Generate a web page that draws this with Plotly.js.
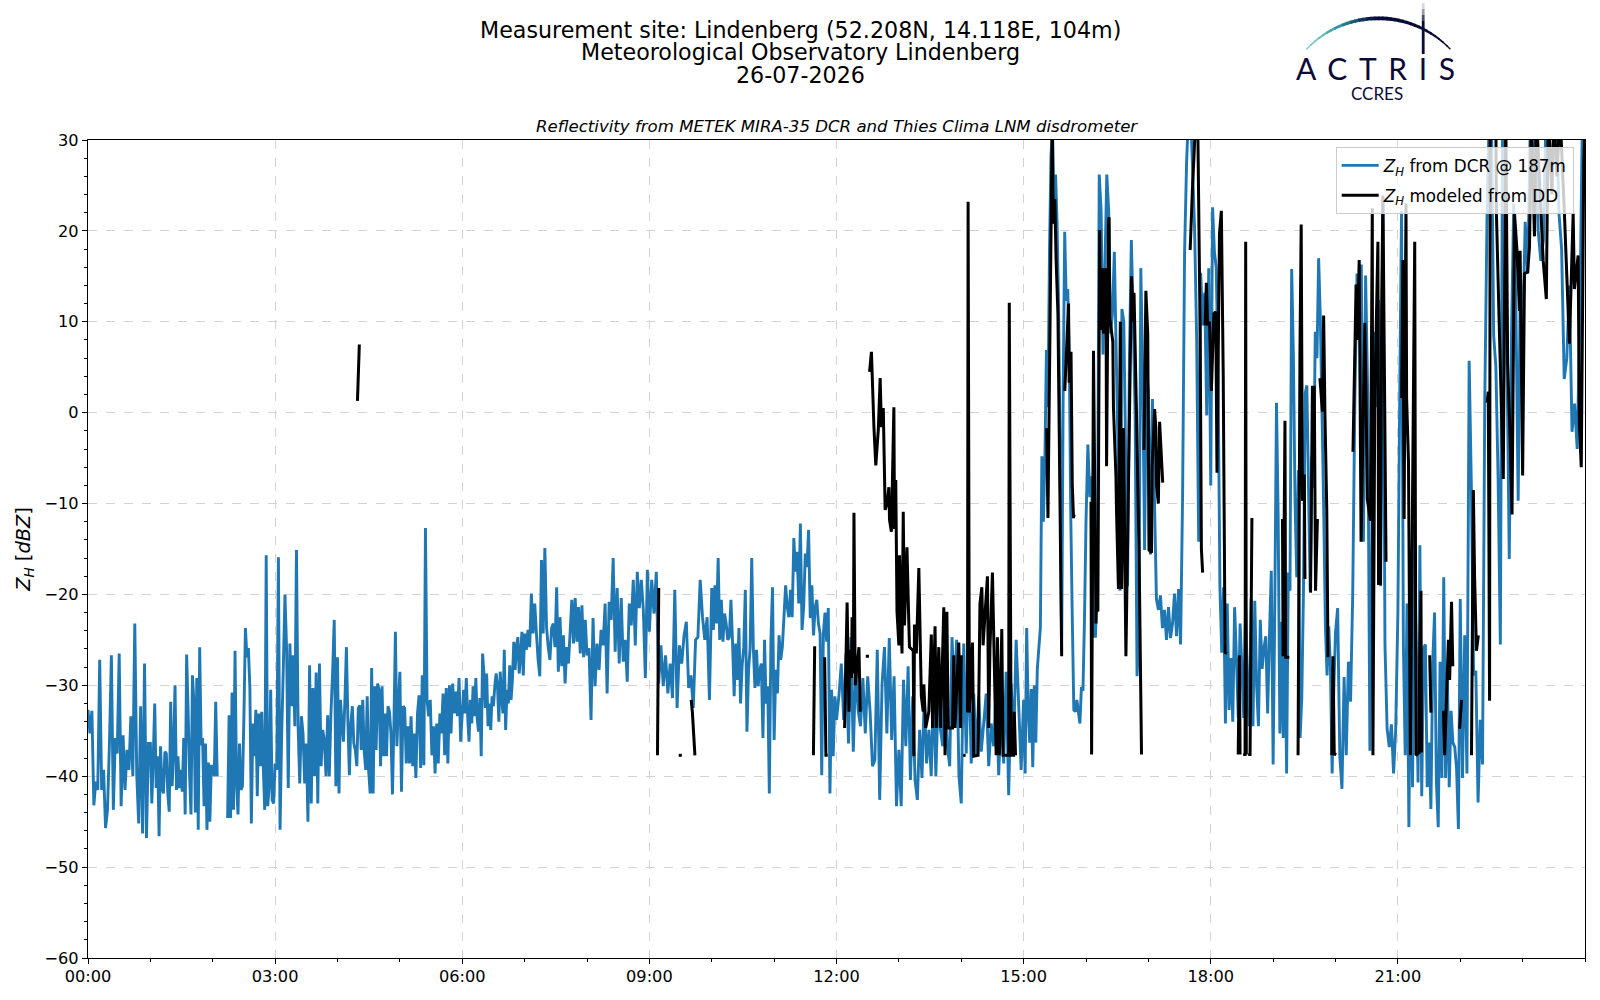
<!DOCTYPE html>
<html><head><meta charset="utf-8">
<script src="https://cdn.plot.ly/plotly-3.0.1.min.js"></script>
<style>html,body{margin:0;padding:0;background:#fff}#chart{width:1600px;height:1000px}</style>
</head><body><div id="chart"></div>
<script>
// Z_H from DCR, one list per hour of the day [dBZ]; values above 30 run off the top of the axis
const dcrH00=[-32.7,-35.3,-32.8,-43.2,-40.6,-41.5,-27.2,-41.5,-39.3,-45.7,-43.7,-36.4,-26.7,-43.7,-35.8,-37.5,-26.5,-43.3,-35.5,-41.5,-37.1,-39.3,-33.4,-40,-23.2,-39.8,-45.2,-32.3,-46.3,-27.6,-46.8,-36.4];
const dcrH01=[-36.4,-43,-37.8,-32,-41.3,-37.8,-46.6,-36.7,-41.3,-41.9,-37.3,-37.5,-41.9,-43.9,-31.8,-41.1,-37.1,-30,-41.5,-37.8,-41.3,-39.3,-41.7,-35.8,-44.2,-26.6,-32.7,-39.7,-44.2,-28.9,-31.8,-44,-29.2,-45.9,-25.8,-36.6,-35.8,-43.3,-36.4,-45.9,-38.5,-45,-38.9];
const dcrH02=[-38.9,-40,-31.8,-40,null,null,null,null,null,null,-44.6,-33.3,-44.6,-30.8,-43.7,-26.2,-40.6,-44.2,-36.4,-41.5,-41.1,-33.3,-23.7,-26.9,-25.9,-30.3,-45.2,-34.2,-37.8,-32.7,-42.2,-33.1,-38.9,-32.9,-38.9,-43.7,-15.7,-43.3,-41.1,-30.5,-42.6,-43];
const dcrH03=[-38.6,-39.3,-15.9,-45.9,-35.3,-28,-20,-26.1,-41.3,-25.4,-32.3,-26.7,-34.5,-15.1,-34.5,-40.8,-33.4,-35.3,-40.8,-36.4,-45,-27.8,-43,-30.3,-40,-28.6,-43,-27.6,-38.9,-34.9,-36,-40,-33.3,-40,-33.1,-28.7,-22.8,-41.1];
const dcrH04=[-26.9,-41.9,-31.6,-34.2,-36.2,-31.6,-25.8,-34,-39.9,-34.2,-32.3,-36.4,-37.1,-38.9,-32.5,-32.2,-37.1,-31.6,-37.3,-39.3,-31.2,-39.5,-41.9,-28.1,-41.9,-30.1,-37.1,-29.8,-30.5,-38.9,-30.1,-37.8,-33.1,-37.8,-32.3,-32.9,-35.3,-42,-34.2,-24.1,-36.7,-32.3];
const dcrH05=[-28.5,-41.7,-32.3,-32.5,-38.6,-34.5,-38.6,-33.4,-38.9,-35.3,-40.2,-33.1,-31.1,-39.1,-28.9,-38.8,-12.7,-31.6,-33.4,-31.6,-37.7,-34.5,-39.7,-34.2,-38.6,-33.1,-35.3,-30.9,-37.7,-30.3,-38.6,-30,-35.3,-29.8,-33.1,-30.7,-33.4,-29.2,-36.2];
const dcrH06=[-33.1,-30.5,-33.1,-29.2,-33.4,-36.2,-31.6,-34.2,-30.1,-33.4,-29.2,-33.6,-35.1,-31.4,-37.8,-26.5,-28.7,-32.5,-28.7,-34.5,-32,-34.9,-31.2,-32.3,-30.1,-28.7,-30.1,-34,-28.5,-31.2,-33.1,-26.1,-34.9,-30.5,-32,-27.8,-31.6,-29.4,-25.2,-28.3,-25.8,-24.7,-28.7,-26.7,-24.1,-28.9];
const dcrH07=[-24.3,-26.1,-23.9,-25.8,-19.9,-24.3,-21,-24.3,-27.2,-29,-16.2,-24.3,-14.9,-23.6,-25.8,-27.2,-23.7,-23.2,-25.8,-19.2,-28.5,-22.5,-27.9,-24.5,-29.8,-25.8,-27.6,-24.1,-20.6,-25.4,-20.4,-25.2,-21.4,-26.5,-21.2,-26.9,-22.8];
const dcrH08=[-26.7,-25.9,-33.8,-22.6,-30.1,-25.4,-28.3,-23.9,-25.6,-21,-30.9,-20.8,-22.8,-16,-26.3,-19.3,-27.6,-20.4,-27.4,-25,-29.6,-21,-23.4,-18.4,-25.6,-17.5,-21.5,-18.4,-21.7,-29.2,-17.3];
const dcrH09=[-24.1,-18.4,-22.1,-17.5,-29.8,-25.6,-30.1,-26.7,-30.9,-27.6,-31.4,-19.5,-32.5,-25.6,-27.6,-24.5,-23,-30.3,-28.9,-32.5,-25,-24.7,-18.4,-22.5,-25,-22.5,-31.6];
const dcrH10=[-19.3,-23.9,-19,-23.2,-16,-25,-20.6,-25.2,-22.1,-23.2,-25,-24.7,-20.6,-25.2,-31.2,-25.4,-29.4,-23.7,-32,-27.8,-25.8,-19.5,-35.1,-28.3,-25.9,-16,-25.8,-30.3,-26.1,-30.1,-28.3,-27.6,-35.8,-25,-32,-30.1,-41.9,-25,-19.2];
const dcrH11=[-36,-28.3,-30.9,-24.5,-27.2,-25.8,-22.5,-19,-21.4,-22.5,-19.5,-22.5,-13.8,-17.5,-15.3,-21,-12.2,-23.9,-21.4,-15.5,-17,-12.9,-22.6,-19,-24.5,-21.4,-20.6,-23.2,-24.3,-39.9,-24.3,-22,-25.2,-21.5,-41.9,-30.5,-37.8,-31.2];
const dcrH12=[-33.8,-31.2,-27.6,-33.8,-26.5,-36.4,-24.7,-37.3,-27.9,-32.7,-34.5,-29.2,-35.3,-29,-32.9,-38.9,-38.2,-26.1,-42.6,-29.8,-25.8,-35.3,-24.8,-36,-29,-43.3];
const dcrH13=[-37.1,-43.3,-29.4,-36.7,-27.9,-40.4,-31.2,-40.4,-42.6,-34.9,-40.2,-31.2,-38.6,-34.9,-40,-30.1,-40,-31.2,-34.9,-36.7,-29.8,-36.7,-38.9,-24.7,-31.2,-25,-40];
const dcrH14=[-43,-25.4,-37.5,-26.1,-38.6,-30.9,-37.8,-31.2,-37.3,-34.2,-30.9,-38.9,-34.2,-36.7,-30.1,-39.9,-32.3,-38.6,-28.5,-42.1,-29.8,-36.7,-25,-32,-39.3];
const dcrH15=[-31.6,-39.7,-23.7,-32.7,-36.3,-30.4,-39,-30,-36.3,-28.2,-25.9,-23.7,-4.8,-12,-4.8,6.9,0.6,17.7,28.4,31,20.8,26.2,20.8,11.4,-4.8,-26.4,2.4,19.9,12.3,13.6,6.4,-11.5,-22.8,-32.7,-32.9,-31.6,-32.9,-34.2,-30.2,-30.6,-22.8];
const dcrH16=[-12,-3.5,-9.3,-7,-24.6,-24.6,-18.3,26.2,22.2,6.4,15.9,26.2,22.2,8.7,10.9,17.7,6.4,-4.8,-19.6,11.4,10,-4.8,-19.1,6.4,19,10,-0.3,-29,-24.6,15.9,4.2,-15.1,4.8];
const dcrH17=[2.2,-15.6,1.5,-9.3,-20.5,-21.7,-20.1,-23.7,-21.7,-25,-21.4,-24.8,-23.2,-19.9,-24.6,-19.4,-25.5,-9.3,17.7,27.6,33,33,26.7,20,8,-14.2,15.4,9.6,13.2,-0.3,15.9];
const dcrH18=[-8,22.6,17.7,15.9,4.2,-19.2,-26.4,-19.2,-34.2,-21,-32.7,-27,-34,-21.4,-27,-33.6,-23.2,-28.2,-33.6,-21.4,-30,-34.5,-20.5,-34.5,-20.7,-30,-34.5,-22.8,-28.2,-25.9,-24.6,-33.1,-24.6,-17.4];
const dcrH19=[-38.7,-21,1.1,-11.7,-35.3,-23,-35.8,-23,-39.7,-17.6,-19.6,15.8,6.5,-9.7,-18.1,-6.3,-35.8,-31.4,-19.6,2.1,3,-8.3,-19.6,-4.8,-8.3,8.9,6,17,10.4,0.1,-10.7,-23.5,-28.9,-23.5,-27.9,-39.7,-30.4];
const dcrH20=[-24.2,-21.5,-37.7,-41.4,-29.1,-37.7,-27.4,-31.8,-20,1.6,15.3,8,16.3,-14.2,15.1,1.6,-37.2,-10.7,8.9,0.6,12.4,-19.1,23.7,-25.5,-34.8,-36.8,-34.3,-39.7,-34.8];
const dcrH21=[-22,1.6,22.2,-25.5,-37.7,-21,-45.6,-23,-41.2,-12.2,-27.9,-40.7,-14.6,-42.2,-25.9,-25.5,-41.2,-36.3,-43.6,-27.4,-22,-40.7,-45.6,-27.4,-40.2,-18.1,-40.2,-29.4,-41.2,-32.8,-36.3,-36.8,-39.2,-45.8];
const dcrH22=[-20.5,-40.2,-24.5,-39.7,5.7,-8.3,-28.9,-28.4,-42.9,-33.8,-38.7,1.1,21.2,33,33,8.5,5,-7.3,-25.5,33,33,5.5,-16.1,8.5,23,11.4,-9.7,15.3];
const dcrH23=[8,21,15.3,33,22,33,20,16.7,19,33,33,33,33,33,21.9,18,3.7,6,14,-2.1,1,-4,10,33];

// Z_H modeled from disdrometer: time [h] and value [dBZ], null marks a break in the record
const ddHours=[4.32,4.35,null,
 9.13,9.15,null,9.47,9.52,null,9.67,9.69,9.73,null,
 11.63,11.65,null,11.81,11.83,11.86,null,
 12.13,12.17,12.20,12.21,12.24,12.25,12.27,12.28,12.30,12.36,12.38,null,12.47,12.52,null,
 12.53,12.56,12.60,12.63,12.67,12.70,12.72,12.75,12.78,12.81,12.84,12.85,12.88,12.92,12.93,12.95,12.97,13.0,13.01,13.05,13.07,13.09,13.13,13.16,13.17,13.23,13.24,13.25,13.28,13.32,13.36,13.39,13.40,13.43,13.48,13.52,13.54,13.58,13.60,13.64,13.67,13.72,13.74,13.77,13.79,13.86,13.88,13.90,13.96,13.99,14.0,null,
 14.03,14.07,null,
 14.10,14.11,14.13,14.18,14.2,14.27,14.30,14.33,14.35,14.38,14.42,14.44,14.46,14.50,14.56,14.58,14.61,14.65,14.67,14.72,14.76,14.77,14.80,14.84,14.85,14.87,null,
 15.37,15.39,15.46,15.47,15.49,15.50,15.52,15.55,15.61,null,
 15.66,15.72,15.73,15.76,15.78,15.80,15.81,null,
 16.08,16.09,16.12,16.16,16.17,16.19,16.22,16.23,16.27,16.28,16.32,16.33,16.36,16.37,16.38,16.43,16.44,16.48,16.49,16.52,16.55,16.57,16.60,16.64,16.73,16.76,16.77,16.81,16.85,16.89,null,
 16.93,16.96,16.99,17.01,17.05,17.06,17.10,17.12,17.13,17.16,17.18,17.23,null,
 17.67,17.71,17.73,17.76,17.79,17.83,17.85,17.87,null,
 17.91,17.93,17.95,17.98,18.01,18.05,18.08,18.10,18.14,18.17,18.20,18.23,18.26,null,
 18.44,18.46,18.47,null,18.52,18.55,18.56,18.57,null,18.60,18.63,18.66,null,
 19.15,19.16,19.19,19.20,19.26,null,
 19.40,19.43,19.45,19.47,19.50,19.51,null,
 19.60,19.63,19.66,19.68,19.71,null,
 19.75,19.79,19.81,19.83,19.86,19.88,null,
 19.94,19.96,19.98,20.0,null,
 20.28,20.33,20.35,20.38,20.41,20.47,20.49,20.51,20.56,20.59,20.60,20.63,20.68,20.69,20.72,20.74,20.76,20.81,null,
 21.06,21.08,21.10,21.13,21.14,21.17,21.20,21.27,21.29,21.34,21.35,21.37,21.38,null,
 21.51,21.53,null,21.73,21.75,21.81,21.83,21.86,21.88,null,21.99,22.02,null,
 22.18,22.21,22.23,22.26,22.29,null,
 22.43,22.45,22.47,22.48,22.57,22.58,22.63,22.69,22.73,22.76,22.80,22.83,22.87,22.91,22.95,22.96,23.0,23.03,23.08,23.11,23.14,23.19,23.22,23.33,23.38,23.41,23.47,23.5,23.55,23.6,23.67,23.75,23.81,23.83,23.89,23.91,23.94,23.98,24];
const ddDbz=[1.3,7.5,null,
 -37.7,-19.3,null,-37.7,-37.7,null,-31.6,-33,-37.7,null,
 -37.7,-25.7,null,-26.9,-37.7,-37.7,null,
 -34.7,-20.9,-32.9,-26.1,-29.2,-22.5,-28.7,-11,-30,-25.8,-32.9,null,-26.8,-26.8,null,
 4.5,6.7,-1.6,-5.8,-1.9,3.8,-1.6,0.5,-10.7,-10,-8.2,-11.8,-13.1,0.6,-12.8,-7.4,-21.9,-25.6,-15.7,-26.5,-10.9,-23.4,-14.8,-23.4,-25.8,-26.2,-37.8,-23.3,-26.5,-17.1,-31.2,-32.9,-29.9,-34.7,-32.9,-24.4,-34.7,-23.5,-34.7,-25.8,-34.7,-21.4,-37.7,-21.9,-34.7,-34.7,-26.7,-34.7,-25.3,-34.7,-26.7,null,
 -37.7,-37.7,null,
 -33,23.2,-33,-25.3,-37.8,-37.7,-21,-19.2,-25.6,-22.3,-18,-34.7,-26,-17.6,-37.7,-24.7,-37.7,-23.8,-37.7,-37.7,-37.7,12.1,-37.7,-37.7,-32.9,-37.7,null,
 -1.7,-11.6,33,24,20.8,23.5,17,10.9,-26.8,null,
 2.4,12,3.3,6.7,-8,-11.6,-11.2,null,
 -9.8,-37.6,6.8,-23.2,-19.6,-21.9,20.1,9.1,15.9,8.7,15.9,-5.9,21,21.5,10.5,7.8,0.6,-7,-11,-19.4,10,-19.4,-1.7,-26.8,15,10,13.2,-0.3,-15,-37.6,null,
 -4.1,13.4,8.7,-15.1,-15.4,-6,0.4,-1.7,-8,-10,-1,-7.7,null,
 17.9,25.3,28,33,33,8.7,-15,-17.6,null,
 9.6,14.3,9.6,10,2.4,10.9,11.1,-6.6,19.7,22.2,4.2,-26.4,-26.5,null,
 -37.6,-26.7,-37.6,null,-37.6,-37.6,18.8,-37.6,null,-37.6,-37.6,-11.6,null,
 -11.7,-26.8,-0.9,-26.9,-26.9,null,
 -37.7,6.5,20.7,-9.7,-6.8,-18.3,null,
 -19.8,2.8,2.8,-19.6,-11.7,null,
 3.8,0.1,10.7,0.1,-10.7,-26.9,null,
 -37.7,-26.8,-37.7,-37.4,null,
 -4.3,14.1,8,16.8,-14.2,9.9,1.6,-9.5,-11.9,22.5,-37.7,1.6,18.8,-18.8,-18.8,11.5,23.9,-16.4,null,
 1.6,16.8,-11.7,23,1.6,-5.3,-37.7,18.8,-37.7,-37.4,-26.4,-19.6,-37.4,null,
 -26.7,-33,null,-32.8,-37.7,-25,-29.4,-20.8,-27.9,null,-34.8,-31.6,null,
 -37.7,-8.5,-18.1,-26.2,-24.5,null,
 1.1,2.3,-31.7,33,33,21.9,8.3,-7.3,33,5.4,-3,-11.2,21.9,17.8,11.2,17.8,-6.9,15.3,15.5,18.2,33,19.4,33,16.7,12.5,33,24,33,26,33,21.9,7.6,21.9,13.6,17.3,-1.2,-6,27.4,32];

const hourTicks=[0,3,6,9,12,15,18,21];
const hourLabels=['00:00','03:00','06:00','09:00','12:00','15:00','18:00','21:00'];
const titleLines=['Measurement site: Lindenberg (52.208N, 14.118E, 104m)','Meteorological Observatory Lindenberg','26-07-2026'];
const dcrHours=[dcrH00,dcrH01,dcrH02,dcrH03,dcrH04,dcrH05,dcrH06,dcrH07,dcrH08,dcrH09,dcrH10,dcrH11,dcrH12,dcrH13,dcrH14,dcrH15,dcrH16,dcrH17,dcrH18,dcrH19,dcrH20,dcrH21,dcrH22,dcrH23];

const dcrX=[],dcrY=[];
dcrHours.forEach((row,h)=>row.forEach((v,i)=>{dcrX.push(h+i/row.length);dcrY.push(v);}));

const W=1600,H=1000,L=88.3,R=1585.3,T=140,B=958;
// figure pixels to paper fractions of the plot area
const fx=p=>(p-L)/(R-L), fy=p=>1-(p-T)/(B-T);
const pp=(x,y)=>fx(x).toFixed(5)+','+fy(y).toFixed(5);
const NAVY='#0b0b38';
const shapes=[];
// logo arc, teal to navy
const arcStops=[[124,200,196],[100,186,186],[70,170,176],[48,150,165],[34,120,142],[26,90,118],[20,55,90],[14,28,68],[11,11,56]];
const cx=1378.7,sag=31,half=72,rad=(half*half+sag*sag)/(2*sag),cy=18.3+rad;
const N=36;
for(let i=0;i<N;i++){
  const a0=-half+2*half*i/N,a1=Math.min(half,-half+2*half*(i+1)/N+1);
  const y0=cy-Math.sqrt(rad*rad-a0*a0),y1=cy-Math.sqrt(rad*rad-a1*a1);
  const c=arcStops[Math.min(arcStops.length-1,Math.floor(i/N*1.9*arcStops.length))];
  const w=1.3+2.4*Math.sin(Math.PI*(i+0.5)/N);
  shapes.push({type:'path',xref:'paper',yref:'paper',layer:'above',
    path:'M '+pp(cx+a0,y0)+' L '+pp(cx+a1,y1),
    line:{color:'rgb('+c.join(',')+')',width:w}});
}
// logo mast, fading to the top
[[3,9,0.15],[9,15,0.4],[15,21,0.75],[21,54,1]].forEach(s=>shapes.push({type:'path',xref:'paper',yref:'paper',layer:'above',
  path:'M '+pp(1423.5,s[0])+' L '+pp(1423.5,s[1]),line:{color:NAVY,width:2.8},opacity:s[2]}));

const DV='DejaVu Sans';
const layout={
  width:W,height:H,paper_bgcolor:'#fff',plot_bgcolor:'#fff',
  margin:{l:L,r:W-R,t:T,b:H-B,pad:0},
  font:{family:DV,color:'#000',size:15},
  showlegend:true,
  legend:{x:fx(1336),y:fy(147),xanchor:'left',yanchor:'top',bgcolor:'rgba(255,255,255,0.8)',bordercolor:'#cccccc',borderwidth:1,itemwidth:37,font:{family:DV,size:16.8,color:'#000'},tracegroupgap:5},
  xaxis:{type:'linear',range:[0,24],tickmode:'array',tickvals:hourTicks,ticktext:hourLabels,ticks:'outside',ticklen:5,tickwidth:1.1,tickcolor:'#000',
    showline:true,linecolor:'#000',linewidth:1.2,mirror:true,zeroline:false,ticklabelstandoff:-2,
    showgrid:true,gridcolor:'#d3d3d3',griddash:'dash',gridwidth:1,tickfont:{family:DV,size:16.2,color:'#000'},
    minor:{dtick:1,tick0:0,ticks:'outside',ticklen:3,tickwidth:1,tickcolor:'#000',showgrid:false}},
  yaxis:{range:[-60,30],tickmode:'linear',tick0:-60,dtick:10,ticks:'outside',ticklen:5,tickwidth:1.1,tickcolor:'#000',
    showline:true,linecolor:'#000',linewidth:1.2,mirror:true,zeroline:false,
    showgrid:true,gridcolor:'#d3d3d3',griddash:'dash',gridwidth:1,tickfont:{family:DV,size:16.2,color:'#000'},
    minor:{dtick:2,tick0:-60,ticks:'outside',ticklen:3,tickwidth:1,tickcolor:'#000',showgrid:false},
    title:{text:'<i>Z<sub>H</sub></i> [<i>dBZ</i>]',font:{family:DV,size:19.4,color:'#000'},standoff:8}},
  shapes:shapes,
  annotations:[
    ...titleLines.map((t,i)=>({xref:'paper',yref:'paper',x:fx(801),y:fy([29.5,52,75][i]),xanchor:'center',yanchor:'middle',showarrow:false,text:t,font:{family:DV,size:22.2,color:'#000'}})),
    {xref:'paper',yref:'paper',x:fx(837),y:fy(127),xanchor:'center',yanchor:'middle',showarrow:false,
     text:'<i>Reflectivity from METEK MIRA-35 DCR and Thies Clima LNM disdrometer</i>',font:{family:DV,size:16.6,color:'#000'}},
    {xref:'paper',yref:'paper',x:fx(1294.5),y:fy(68),xanchor:'left',yanchor:'middle',showarrow:false,
     text:"<span style='letter-spacing:11.6px'>ACTRIS</span>",font:{family:'Lato',size:30,color:NAVY}},
    {xref:'paper',yref:'paper',x:fx(1377),y:fy(93),xanchor:'center',yanchor:'middle',showarrow:false,
     text:'CCRES',font:{family:'Lato',size:17,color:NAVY}}
  ]
};

const traces=[
  {x:dcrX,y:dcrY,type:'scatter',mode:'lines',name:'<i>Z<sub>H</sub></i> from DCR @ 187m',legendgroup:'dcr',line:{color:'#1f77b4',width:2.9,simplify:false},connectgaps:false,hoverinfo:'skip'},
  {x:ddHours,y:ddDbz,type:'scatter',mode:'lines',name:'<i>Z<sub>H</sub></i> modeled from DD',legendgroup:'dd',line:{color:'#000000',width:3,simplify:false},connectgaps:false,hoverinfo:'skip'}
];
Plotly.newPlot('chart',traces,layout,{displayModeBar:false,responsive:false});
</script></body></html>
